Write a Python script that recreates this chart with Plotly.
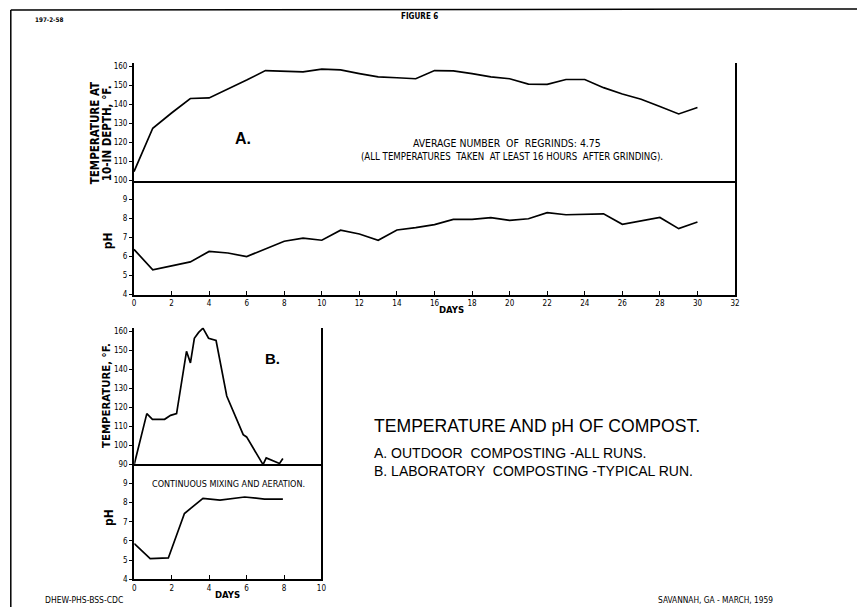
import plotly.graph_objects as go

# ---------------- data ----------------
days_a = list(range(0, 31))
temp_a = [104.7, 127.5, 135.5, 143.1, 143.4, 148.0, 152.8, 157.8, 157.3, 157.1,
          158.5, 158.1, 156.2, 154.5, 154.0, 153.5, 157.8, 157.6, 156.2, 154.5,
          153.5, 150.7, 150.5, 153.1, 153.1, 148.8, 145.5, 142.7, 138.9, 135.0, 138.4]
ph_a = [6.38, 5.30, 5.51, 5.72, 6.27, 6.19, 6.00, 6.40, 6.81, 6.97,
        6.86, 7.39, 7.19, 6.86, 7.40, 7.52, 7.68, 7.96, 7.96, 8.05,
        7.91, 7.99, 8.31, 8.20, 8.24, 8.25, 7.70, 7.89, 8.06, 7.47, 7.82]

days_b_temp = [0, 0.67, 0.97, 1.62, 1.94, 2.26, 2.79, 3.0, 3.21, 3.44, 3.67, 3.97,
               4.37, 4.94, 5.82, 6.0, 6.88, 7.05, 7.76, 7.94]
temp_b = [90, 116.7, 113.7, 113.7, 115.8, 116.7, 149.6, 143.5, 156.5, 159.6, 161.8, 156.5,
          155.3, 126.0, 105.6, 104.4, 89.8, 93.3, 90.4, 93.0]
days_b_ph = [0, 0.85, 1.82, 2.68, 3.67, 4.58, 5.9, 6.96, 7.94]
ph_b = [5.86, 5.08, 5.11, 7.43, 8.22, 8.13, 8.29, 8.18, 8.18]

ticks_days_a = list(range(0, 33, 2))
ticks_temp_a = list(range(100, 161, 10))
ticks_ph = [4, 5, 6, 7, 8, 9]
ticks_days_b = list(range(0, 11, 2))
ticks_temp_b = list(range(90, 161, 10))

# ---------------- figure ----------------
# the page body has an 8px default margin, so the figure is placed 8px in
OFF = 8
FW, FH = 865 - OFF, 612 - OFF
FONT = "Liberation Sans Narrow, DejaVu Sans Condensed, Liberation Sans, sans-serif"
TXT = "Liberation Sans, DejaVu Sans, sans-serif"


def px(x, y):
    return (x - OFF) / FW, 1 - (y - OFF) / FH


def dx(a, b):
    return [px(a, 0)[0], px(b, 0)[0]]


def dy(top, bottom):
    return [px(0, bottom)[1], px(0, top)[1]]


line = dict(color="black", width=1.7)
fig = go.Figure()
fig.add_trace(go.Scatter(x=days_a, y=temp_a, mode="lines", line=line, xaxis="x", yaxis="y"))
fig.add_trace(go.Scatter(x=days_a, y=ph_a, mode="lines", line=line, xaxis="x2", yaxis="y2"))
fig.add_trace(go.Scatter(x=days_b_temp, y=temp_b, mode="lines", line=line, xaxis="x3", yaxis="y3"))
fig.add_trace(go.Scatter(x=days_b_ph, y=ph_b, mode="lines", line=line, xaxis="x4", yaxis="y4"))

tickfont = dict(family=FONT, size=8, color="black")
common = dict(showgrid=False, zeroline=False, showline=True, linecolor="black",
              linewidth=2, tickfont=tickfont, tickcolor="black", fixedrange=True)

dom_xa = dx(133, 739)
dom_xb = dx(133.3, 322)

fig.update_layout(
    width=FW, height=FH, autosize=False,
    margin=dict(l=0, r=0, t=0, b=0, pad=0),
    paper_bgcolor="white", plot_bgcolor="white",
    showlegend=False,
    xaxis=dict(domain=dom_xa, range=[0, 32], anchor="y", ticks="", showticklabels=False, **common),
    yaxis=dict(domain=dy(63, 182), range=[100, 162], anchor="x", mirror=True,
               ticks="outside", ticklen=3, tickvals=ticks_temp_a, **common),
    xaxis2=dict(domain=dom_xa, range=[0, 32], anchor="y2", ticks="inside", ticklen=4,
                tickvals=ticks_days_a, **common),
    yaxis2=dict(domain=dy(182, 297), range=[4, 10], anchor="x2", mirror=True,
                ticks="outside", ticklen=3, tickvals=ticks_ph, **common),
    xaxis3=dict(domain=dom_xb, range=[0, 10], anchor="y3", ticks="", showticklabels=False, **common),
    yaxis3=dict(domain=dy(330.5, 468), range=[90, 162], anchor="x3", mirror=True,
                ticks="outside", ticklen=3, tickvals=ticks_temp_b, **common),
    xaxis4=dict(domain=dom_xb, range=[0, 10], anchor="y4", ticks="inside", ticklen=4,
                tickvals=ticks_days_b, **common),
    yaxis4=dict(domain=dy(468, 584), range=[4, 10], anchor="x4", mirror=True,
                ticks="outside", ticklen=3, tickvals=ticks_ph, **common),
)


def note(text, x, y, size, bold=False, angle=0, family=TXT, xanchor="center"):
    ax, ay = px(x, y)
    t = f"<b>{text}</b>" if bold else text
    fig.add_annotation(x=ax, y=ay, xref="paper", yref="paper", text=t, showarrow=False,
                       textangle=angle, xanchor=xanchor, yanchor="middle",
                       font=dict(family=family, size=size, color="black"))


# axis titles
note("TEMPERATURE AT", 94, 134, 11.5, bold=True, angle=-90, family=FONT)
note("10-IN DEPTH, °F.", 106, 134, 11.5, bold=True, angle=-90, family=FONT)
note("pH", 107, 243, 12, bold=True, angle=-90, family=FONT)
note("DAYS", 453, 312, 9.5, bold=True, family=FONT)
note("TEMPERATURE, °F.", 106, 399, 11.3, bold=True, angle=-90, family=FONT)
note("pH", 108, 522, 12, bold=True, angle=-90, family=FONT)
note("DAYS", 227, 599, 9.5, bold=True, family=FONT)

# panel labels & notes
note("A.", 243, 140, 16, bold=True)
note("B.", 273, 361, 15, bold=True)
note("AVERAGE NUMBER  OF  REGRINDS: 4.75", 509, 144, 10.4, family=FONT)
note("(ALL TEMPERATURES  TAKEN  AT LEAST 16 HOURS  AFTER GRINDING).", 514, 158, 9.6, family=FONT)
note("CONTINUOUS MIXING AND AERATION.", 228, 488, 9, family=FONT)

# title block
note("TEMPERATURE AND pH OF COMPOST.", 373, 429, 17.6, xanchor="left")
note("A. OUTDOOR  COMPOSTING -ALL RUNS.", 373, 457, 14, xanchor="left")
note("B. LABORATORY  COMPOSTING -TYPICAL RUN.", 373, 475, 14, xanchor="left")

# corner marks
note("197-2-58", 47, 20, 6.3, bold=True, family=FONT)
note("FIGURE 6", 421, 17, 8, bold=True, family=FONT)
note("DHEW-PHS-BSS-CDC", 83, 605, 8.5, family=FONT)
note("SAVANNAH, GA - MARCH, 1959", 719, 605, 8.3, family=FONT)

# sheet frame
def seg(x0, y0, x1, y1, color="black", width=1.5):
    a0, b0 = px(x0, y0)
    a1, b1 = px(x1, y1)
    fig.add_shape(type="line", xref="paper", yref="paper", x0=a0, y0=b0, x1=a1, y1=b1,
                  line=dict(color=color, width=width))


seg(8.8, 10, 865, 9)
seg(8.8, 10, 8.8, 612)
seg(863, 10, 863, 612, color="#999999", width=1)

fig.write_html("out.html")
